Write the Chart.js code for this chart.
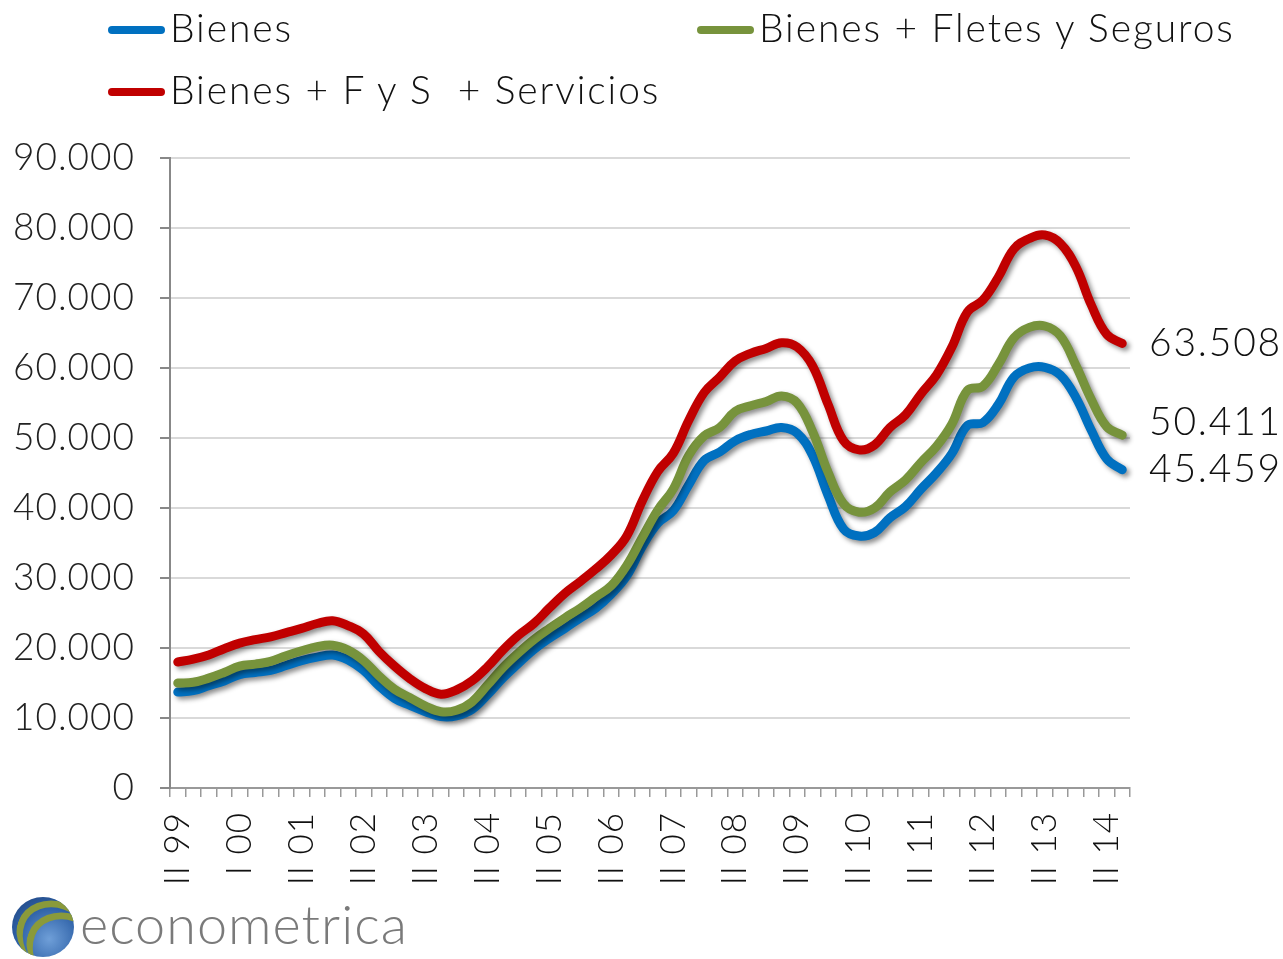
<!DOCTYPE html>
<html>
<head>
    <title>Importaciones</title>
    <script src="https://cdn.jsdelivr.net/npm/chart.js"></script>
    <style>
        body {
            margin: 0;
            padding: 0;
            background: #fff;
            font-family: 'Lato', sans-serif;
            font-weight: 300;
        }
        .wrap {
            position: relative;
            width: 1283px;
            height: 959px;
        }
        .legend-item {
            position: absolute;
            font-size: 39px;
            color: #111;
            white-space: pre;
            line-height: 1;
            letter-spacing: 1.9px;
        }
        .legend-item span.mark {
            display: inline-block;
            width: 57px;
            height: 8px;
            border-radius: 4px;
            margin-right: 5px;
            vertical-align: middle;
            position: relative;
            top: -2px;
        }
        .logo {
            position: absolute;
            left: 0;
            top: 889px;
            width: 430px;
            height: 70px;
            background: #fff;
        }
        .logo .ball {
            position: absolute;
            left: 12px;
            top: 8px;
            width: 62px;
            height: 60px;
            border-radius: 50%;
            background: radial-gradient(circle at 60% 70%, #6f9fd8 0%, #2f62a8 55%, #1d3f78 100%);
            overflow: hidden;
        }
        .logo .arc {
            position: absolute;
            border-radius: 50%;
            border-top: 7px solid #8a9a3a;
            border-left: 7px solid #8a9a3a;
            transform: rotate(20deg);
        }
        .logo .txt {
            position: absolute;
            left: 80px;
            top: 2px;
            font-size: 54px;
            color: #7a7a7a;
            font-weight: 300;
            letter-spacing: 1px;
        }
    </style>
</head>
<body>
<div class="wrap">
    <canvas id="importChart"></canvas>

    <div class="legend-item" style="left:108px; top:8px;"><span class="mark" style="background:#0070C0"></span>Bienes</div>
    <div class="legend-item" style="left:697px; top:8px;"><span class="mark" style="background:#77933C"></span>Bienes + Fletes y Seguros</div>
    <div class="legend-item" style="left:108px; top:70px;"><span class="mark" style="background:#C00000"></span>Bienes + F y S  + Servicios</div>

    <div class="logo">
        <div class="ball">
            <div class="arc" style="left:4px; top:4px; width:70px; height:60px;"></div>
            <div class="arc" style="left:14px; top:16px; width:70px; height:60px;"></div>
        </div>
        <div class="txt">econometrica</div>
    </div>
</div>

<script>
// etiquetas visibles del eje x (una por año, cada 4 trimestres)
const tickLabels = ['II 99', 'I 00', 'II 01', 'II 02', 'II 03', 'II 04', 'II 05', 'II 06',
    'II 07', 'II 08', 'II 09', 'II 10', 'II 11', 'II 12', 'II 13', 'II 14'];

const bienes = [13700, 13900, 14600, 15300, 16200, 16500, 16800, 17500, 18200, 18700,
    19000, 18300, 16800, 14600, 12800, 11800, 10900, 10200, 10300, 11200,
    13300, 15700, 17800, 19800, 21400, 22800, 24300, 25700, 27700, 30300,
    34500, 37800, 39600, 43300, 46800, 48000, 49600, 50500, 51000, 51500,
    50700, 47500, 41800, 37000, 36000, 36500, 38600, 40200, 42700, 45000,
    47800, 51800, 52200, 54800, 58700, 60000, 60100, 59000, 55800, 51100,
    47000, 45459];

const bienesFletes = [15000, 15100, 15700, 16500, 17400, 17700, 18100, 18900, 19600, 20200,
    20400, 19700, 18200, 16000, 14100, 12900, 11700, 10900, 11100, 12300,
    14700, 17200, 19300, 21200, 22800, 24300, 25700, 27300, 28900, 31800,
    35800, 39700, 42700, 47500, 50300, 51500, 53800, 54600, 55200, 56000,
    55000, 50900, 45100, 40600, 39400, 40000, 42300, 44000, 46500, 48800,
    52000, 56800, 57400, 60500, 64300, 65800, 66000, 64600, 60400, 55500,
    51600, 50411];

const bienesServicios = [18000, 18400, 19000, 19900, 20700, 21200, 21600, 22200, 22800, 23500,
    23900, 23200, 22000, 19500, 17400, 15600, 14200, 13400, 14000, 15300,
    17300, 19700, 21800, 23500, 25700, 27800, 29500, 31300, 33300, 36000,
    41000, 45200, 47800, 52500, 56500, 58700, 61000, 62100, 62800, 63600,
    63000, 60300, 54800, 49600, 48300, 49000, 51500, 53300, 56300, 59000,
    63000, 68000, 69700, 73000, 77000, 78500, 79000, 77800, 74500, 69000,
    64800, 63508];

const yTicks = [0, 10000, 20000, 30000, 40000, 50000, 60000, 70000, 80000, 90000];

// un trimestre por punto, etiqueta solo cada 4
const categories = bienes.map((v, i) => (i % 4 === 0 ? tickLabels[i / 4] : ''));

function fmt(n) {
    return String(Math.round(n)).replace(/\B(?=(\d{3})+(?!\d))/g, '.');
}

const FONT = "'Lato', sans-serif";

// un poco de espaciado entre letras, como el original
const spacing = {
    id: 'spacing',
    beforeLayout(chart) { chart.ctx.letterSpacing = '1px'; },
    beforeDraw(chart) { chart.ctx.letterSpacing = '1px'; }
};

const shadowPlugin = {
    id: 'lineShadow',
    beforeDatasetDraw(chart) {
        const ctx = chart.ctx;
        ctx.save();
        ctx.shadowColor = 'rgba(0,0,0,0.45)';
        ctx.shadowBlur = 5;
        ctx.shadowOffsetX = 3;
        ctx.shadowOffsetY = 3;
    },
    afterDatasetDraw(chart) {
        chart.ctx.restore();
    }
};

const endLabels = {
    id: 'endLabels',
    afterDatasetsDraw(chart) {
        const ctx = chart.ctx;
        const y = chart.scales.y;
        const right = chart.chartArea.right;
        const shifts = [0, -13, 0];
        ctx.save();
        ctx.font = '300 39px ' + FONT;
        ctx.letterSpacing = '1.8px';
        ctx.fillStyle = '#111';
        ctx.textBaseline = 'middle';
        ctx.textAlign = 'left';
        chart.data.datasets.forEach((ds, k) => {
            const last = ds.data[ds.data.length - 1];
            ctx.fillText(fmt(last), right + 19, y.getPixelForValue(last) + shifts[k]);
        });
        ctx.restore();
    }
};

const chart = new Chart(document.getElementById('importChart'), {
    type: 'line',
    data: {
        labels: categories,
        datasets: [
            { label: 'Bienes', data: bienes, borderColor: '#0070C0', order: 3 },
            { label: 'Bienes + Fletes y Seguros', data: bienesFletes, borderColor: '#77933C', order: 2 },
            { label: 'Bienes + F y S  + Servicios', data: bienesServicios, borderColor: '#C00000', order: 1 }
        ]
    },
    options: {
        responsive: true,
        maintainAspectRatio: false,
        animation: false,
        layout: { padding: { top: 158, right: 153, left: 0, bottom: 0 } },
        elements: {
            line: { borderWidth: 9, tension: 0.4, borderCapStyle: 'round', borderJoinStyle: 'round', fill: false },
            point: { radius: 0, hoverRadius: 0 }
        },
        plugins: {
            legend: { display: false },
            tooltip: { enabled: false }
        },
        scales: {
            x: {
                offset: true,
                grid: {
                    offset: true,
                    drawOnChartArea: false,
                    tickLength: 9,
                    color: '#999',
                    lineWidth: 1.5
                },
                border: { color: '#999', width: 2 },
                ticks: {
                    autoSkip: false,
                    maxRotation: 90,
                    minRotation: 90,
                    padding: 15,
                    color: '#111',
                    font: { family: FONT, size: 35, weight: 300 }
                },
                afterFit(scale) { scale.height = 171; }
            },
            y: {
                min: 0,
                max: 90000,
                afterBuildTicks(scale) {
                    scale.ticks = yTicks.map(v => ({ value: v }));
                },
                grid: {
                    color: '#d9d9d9',
                    lineWidth: 2,
                    tickLength: 10,
                    tickColor: '#888'
                },
                border: { color: '#888', width: 2 },
                ticks: {
                    padding: 25,
                    color: '#222',
                    font: { family: FONT, size: 37, weight: 300 },
                    callback: v => fmt(v)
                },
                afterFit(scale) { scale.width = 170; }
            }
        }
    },
    plugins: [spacing, shadowPlugin, endLabels]
});
</script>
</body>
</html>
